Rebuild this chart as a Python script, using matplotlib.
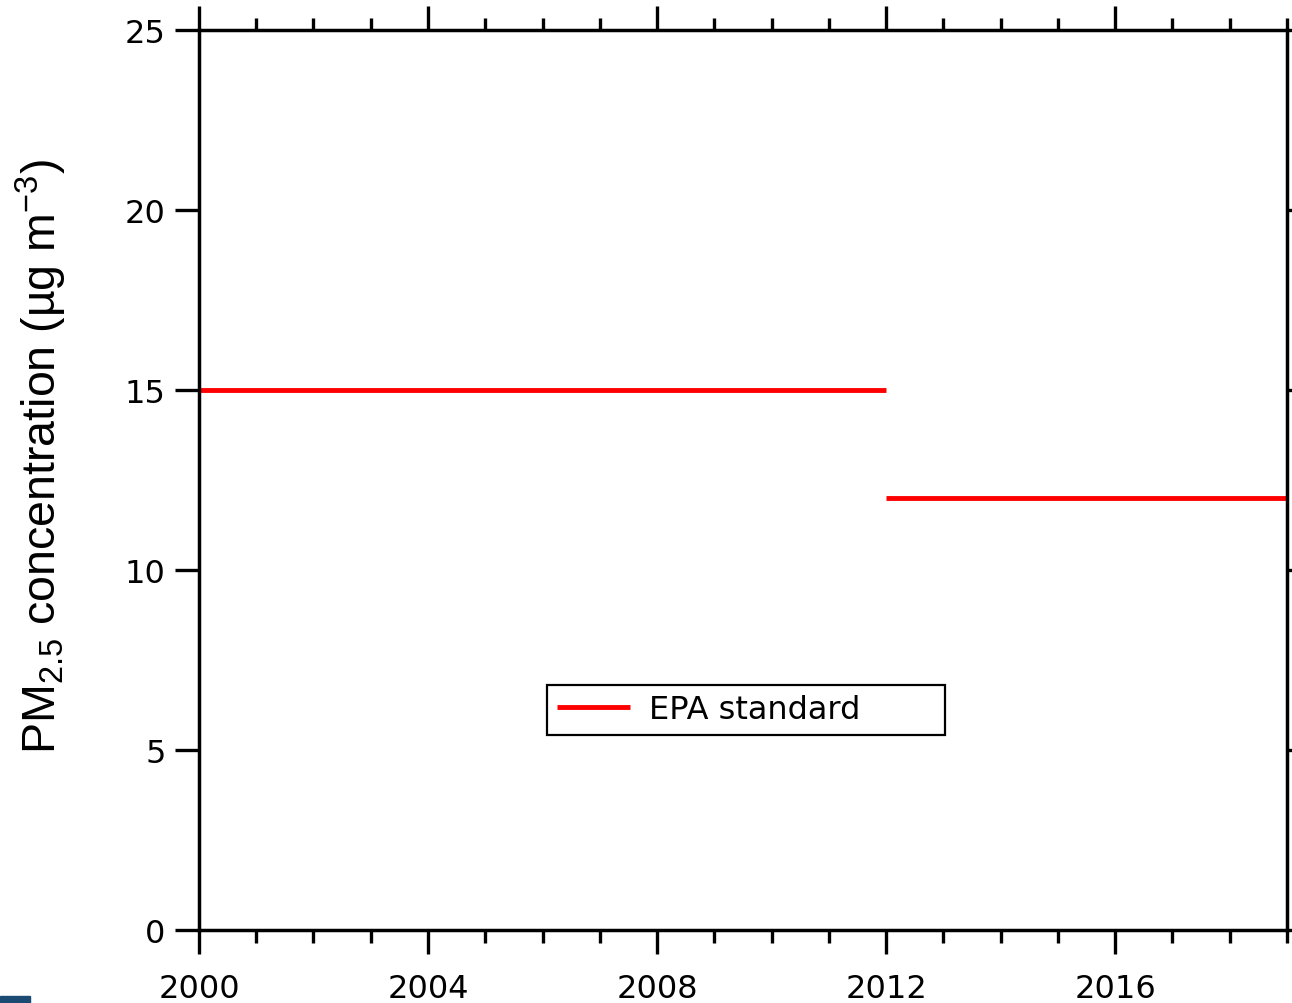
import matplotlib
matplotlib.use('Agg')
import matplotlib.pyplot as plt
from matplotlib.patches import Rectangle
from matplotlib.ticker import MultipleLocator

# EPA annual PM2.5 standard (step change in 2012)
years_old = [2000, 2012]
std_old = [15, 15]
years_new = [2012, 2019]
std_new = [12, 12]

x_ticks = [2000, 2004, 2008, 2012, 2016]
y_ticks = [0, 5, 10, 15, 20, 25]

plt.rcParams['font.family'] = 'DejaVu Sans'
plt.rcParams['mathtext.fontset'] = 'custom'
plt.rcParams['mathtext.rm'] = 'Liberation Sans'

fig = plt.figure(figsize=(12.92, 10.04), dpi=100)
ax = fig.add_axes([0.154, 0.0727, 0.8421, 0.8964])

ax.plot(years_old, std_old, color='#ff0000', lw=3.5, label='EPA standard', solid_capstyle='butt')
ax.plot(years_new, std_new, color='#ff0000', lw=3.5, solid_capstyle='butt')

ax.set_xlim(2000, 2019)
ax.set_ylim(0, 25)
ax.set_xticks(x_ticks)
ax.set_yticks(y_ticks)
ax.xaxis.set_minor_locator(MultipleLocator(1))

for s in ax.spines.values():
    s.set_linewidth(2.5)
ax.tick_params(which='major', direction='out', length=17, width=2.4, labelsize=23,
               top=True, right=True, pad=7)
ax.tick_params(which='minor', direction='out', length=9, width=2.4, top=True)
ax.tick_params(axis='x', pad=14)

fig.text(0.032, 0.545, r'PM$_\mathregular{2.5}$ concentration (µg m$^\mathregular{-3}$)',
         rotation=90, ha='center', va='center', fontsize=33.5, family='Liberation Sans')

leg = ax.legend(loc='lower left', bbox_to_anchor=(0.3199, 0.2167, 0.3658, 0.06), mode='expand',
                fontsize=23, frameon=True, fancybox=False, handlelength=2.3,
                borderpad=0.3, borderaxespad=0, handletextpad=0.6)
leg.get_frame().set_edgecolor('black')
leg.get_frame().set_linewidth(1.6)
leg.get_frame().set_alpha(1)

fig.patches.append(Rectangle((0, 0), 0.023, 0.007, transform=fig.transFigure,
                             color='#1b4a72', figure=fig))

fig.savefig('out.png', dpi=100)
